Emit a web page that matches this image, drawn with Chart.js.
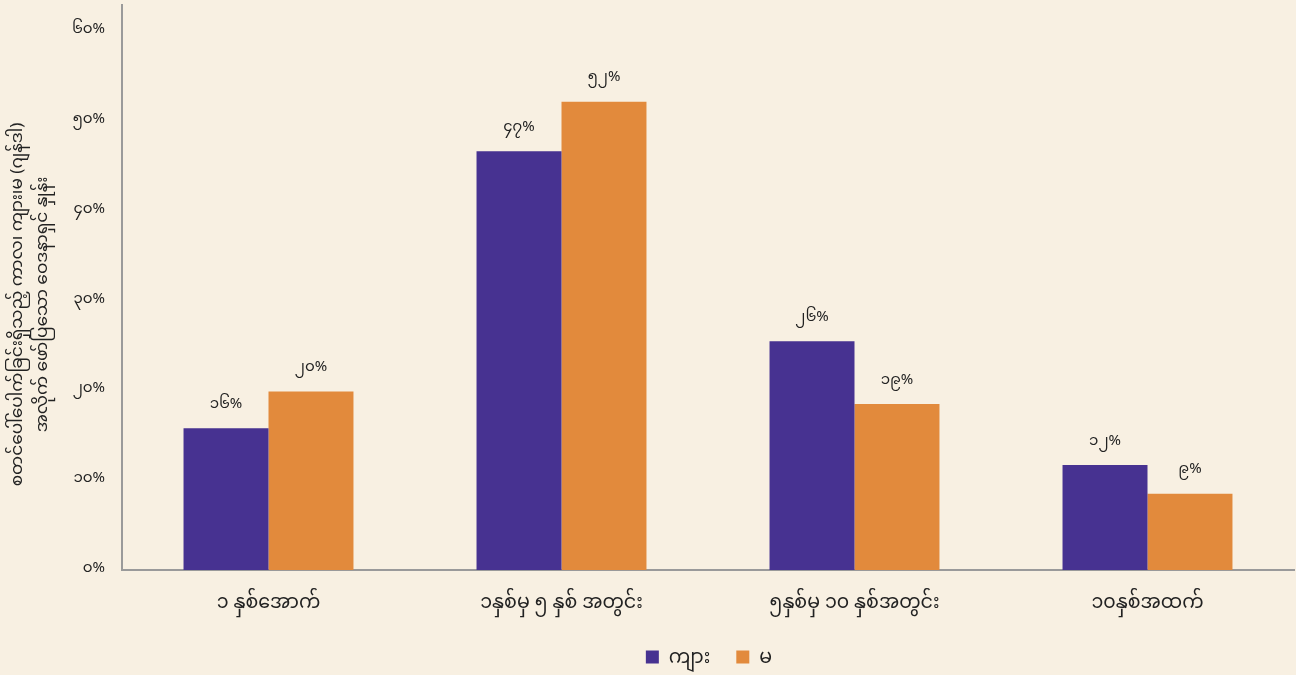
<!DOCTYPE html>
<html>
<head>
<meta charset="utf-8">
<script src="https://cdn.jsdelivr.net/npm/chart.js@4.4.1/dist/chart.umd.min.js"></script>
<style>
  html, body { margin: 0; padding: 0; background: #F8F0E2; }
  #wrap { width: 1296px; height: 675px; }
</style>
</head>
<body>
<div id="wrap"><canvas id="chart" width="1296" height="675"></canvas></div>
<script>
// categories: years since onset
const categories = ['၁ နှစ်အောက်', '၁နှစ်မှ ၅ နှစ် အတွင်း', '၅နှစ်မှ ၁၀ နှစ်အတွင်း', '၁၀နှစ်အထက်'];
const seriesNames = ['ကျား', 'မ'];
const maleValues = [15.8, 46.7, 25.5, 11.7];
const femaleValues = [19.9, 52.2, 18.5, 8.5];
const yTicks = [0, 10, 20, 30, 40, 50, 60];
const yTitle = ['စတင်ပေါ်ပေါက်ခြင်းရှိသည့် ကာလ၊ ကျား၊မ (ဂျန်ဒါ)', 'အလိုက် ဖော်ပြသော ဝေဒနာရှင် နှုန်း'];

const FONT = "'Noto Sans Myanmar', 'Padauk', 'Myanmar Text', 'Noto Sans', sans-serif";
const PURPLE = '#473291';
const ORANGE = '#E28A3C';

// western digits -> Myanmar digits
const mm = n => String(n).replace(/[0-9]/g, d => String.fromCharCode(0x1040 + Number(d)));

Chart.defaults.font.family = FONT;
Chart.defaults.color = '#222';

// value labels above bars
const barLabels = {
    id: 'barLabels',
    afterDatasetsDraw(chart) {
        const ctx = chart.ctx;
        ctx.save();
        ctx.font = '15px ' + FONT;
        ctx.fillStyle = '#222';
        ctx.textAlign = 'center';
        ctx.textBaseline = 'middle';
        chart.data.datasets.forEach((ds, i) => {
            chart.getDatasetMeta(i).data.forEach((bar, j) => {
                ctx.fillText(mm(Math.round(ds.data[j])) + '%', bar.x, bar.y - 22);
            });
        });
        ctx.restore();
    }
};

// rotated two-line y title
const yTitleDraw = {
    id: 'yTitleDraw',
    afterDraw(chart) {
        const ctx = chart.ctx;
        const cy = (chart.chartArea.top + chart.chartArea.bottom) / 2 + 17;
        ctx.save();
        ctx.font = '17px ' + FONT;
        ctx.fillStyle = '#222';
        ctx.textAlign = 'center';
        ctx.textBaseline = 'middle';
        [20, 45].forEach((x, i) => {
            ctx.save();
            ctx.translate(x, cy);
            ctx.rotate(-Math.PI / 2);
            ctx.fillText(yTitle[i], 0, 0);
            ctx.restore();
        });
        ctx.restore();
    }
};

// legend centred under the plot area
const legendDraw = {
    id: 'legendDraw',
    afterDraw(chart) {
        const ctx = chart.ctx;
        const y = 657, box = 13, gap = 10, sep = 26;
        ctx.save();
        ctx.font = '19px ' + FONT;
        ctx.textBaseline = 'middle';
        const items = chart.data.datasets.map(ds => ({ text: ds.label, color: ds.backgroundColor, w: ctx.measureText(ds.label).width }));
        const total = items.reduce((s, it) => s + box + gap + it.w, 0) + sep * (items.length - 1);
        let x = (chart.chartArea.left + chart.chartArea.right) / 2 + 1 - total / 2;
        items.forEach(it => {
            ctx.fillStyle = it.color;
            ctx.fillRect(x, y - box / 2, box, box);
            x += box + gap;
            ctx.fillStyle = '#222';
            ctx.fillText(it.text, x, y + 4);
            x += it.w + sep;
        });
        ctx.restore();
    }
};

const bg = {
    id: 'bg',
    beforeDraw(chart) {
        const ctx = chart.ctx;
        ctx.save();
        ctx.fillStyle = '#F8F0E2';
        ctx.fillRect(0, 0, chart.width, chart.height);
        ctx.restore();
    }
};

new Chart(document.getElementById('chart'), {
    type: 'bar',
    data: {
        labels: categories,
        datasets: [
            { label: seriesNames[0], data: maleValues, backgroundColor: PURPLE },
            { label: seriesNames[1], data: femaleValues, backgroundColor: ORANGE }
        ]
    },
    options: {
        responsive: false,
        animation: false,
        layout: { padding: { top: 5, right: 2, left: 0, bottom: 0 } },
        datasets: { bar: { categoryPercentage: 0.58, barPercentage: 1 } },
        scales: {
            x: {
                grid: { display: false, drawTicks: false },
                border: { color: '#9a9a9a', width: 2 },
                ticks: { font: { size: 19 }, color: '#222', padding: 25 },
                afterFit(scale) {
                    scale.height = 105;
                    scale.paddingLeft = 0;
                    scale.paddingRight = 0;
                }
            },
            y: {
                min: 0,
                max: 63,
                grid: { display: false, drawTicks: false },
                border: { color: '#9a9a9a', width: 2 },
                afterBuildTicks(scale) {
                    scale.ticks = yTicks.map(v => ({ value: v }));
                },
                ticks: {
                    font: { size: 15 },
                    color: '#222',
                    padding: 17,
                    callback: v => mm(v) + '%'
                },
                afterFit(scale) {
                    scale.width = 122;
                    scale.paddingTop = 0;
                    scale.paddingBottom = 0;
                }
            }
        },
        plugins: {
            legend: { display: false },
            tooltip: { enabled: false }
        }
    },
    plugins: [bg, barLabels, yTitleDraw, legendDraw]
});
</script>
</body>
</html>
